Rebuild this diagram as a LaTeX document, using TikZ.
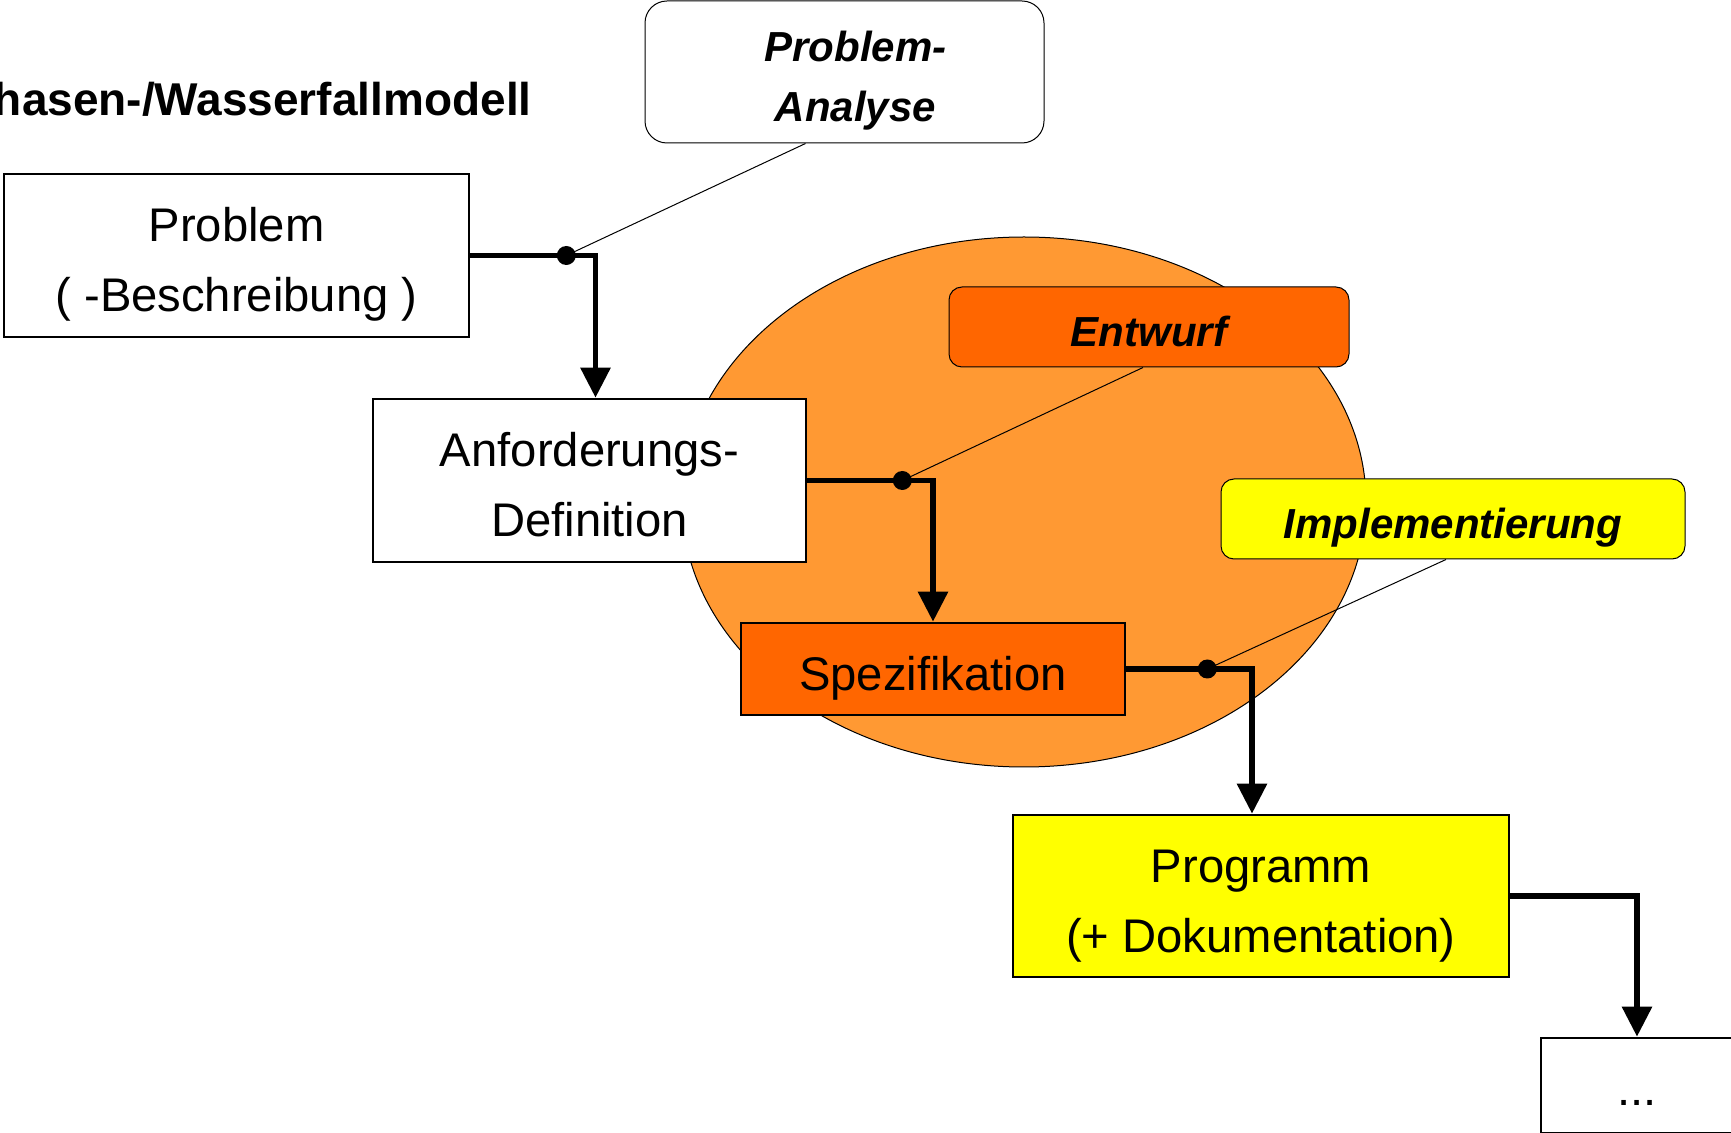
\documentclass[tikz,border=0pt]{standalone}
\usepackage{fontspec}
\setmainfont{Liberation Sans}
\usetikzlibrary{positioning,shapes,arrows.meta,backgrounds}

\definecolor{DARK_ORANGE}{HTML}{FF6600}
\definecolor{LIGHT_ORANGE}{HTML}{FF9933}
\definecolor{PHASE_YELLOW}{HTML}{FFFF00}

\tikzstyle{phase} = [rectangle, draw, line width=1.3pt, inner sep=0pt, align=center, text height=21.4pt, text depth=0pt, font=\fontsize{23.6}{35}\selectfont]
\tikzstyle{two_lines} = [text height=56.4pt]
\tikzstyle{white_phase} = [phase, fill=white]
\tikzstyle{orange_phase} = [phase, fill=DARK_ORANGE]
\tikzstyle{yellow_phase} = [phase, fill=PHASE_YELLOW]
\tikzstyle{activity} = [rectangle, draw, line width=0.5pt, rounded corners=6.5pt, inner sep=0pt, align=center, text height=19.5pt, text depth=0pt, font=\fontsize{21}{30}\selectfont\bfseries\itshape]
\tikzstyle{flow} = [-{Triangle[width=14.5pt,length=15pt]}, line width=2.9pt]
\tikzstyle{pointer} = [line width=0.5pt]
\tikzstyle{joint} = [circle, fill=black, inner sep=0pt, minimum size=9.5pt]

\begin{document}
\begin{tikzpicture}[x=0.5pt, y=-0.5pt]
      \useasboundingbox (0,0) rectangle (1731,1133);
      \clip (0,0) rectangle (1731,1133);

      %%%%%%%%%%%%%%%%%%%%%%%%%%%%%%%%%%%%%%%%%%
      % TITLE + BACKGROUND
      %%%%%%%%%%%%%%%%%%%%%%%%%%%%%%%%%%%%%%%%%%
      \node[anchor=base east, inner sep=0pt, font=\fontsize{23}{28}\selectfont\bfseries] (title) at (532,116) {Phasen-/Wasserfallmodell};
      \node[ellipse, draw, line width=0.5pt, fill=LIGHT_ORANGE, minimum width=342pt, minimum height=265pt] (cloud) at (1024,502) {};

      %%%%%%%%%%%%%%%%%%%%%%%%%%%%%%%%%%%%%%%%%%
      % PHASES
      %%%%%%%%%%%%%%%%%%%%%%%%%%%%%%%%%%%%%%%%%%
      \node[white_phase, two_lines, minimum width=232.5pt, minimum height=81.5pt] (prob) at (236.5,255.5) {Problem\\( -Beschreibung )};
      \node[white_phase, two_lines, minimum width=216.5pt, minimum height=81.5pt] (anf) at (589.5,480.5) {Anforderungs-\\Definition};
      \node[orange_phase, minimum width=192pt, minimum height=46pt] (spez) at (933,669) {Spezifikation};
      \node[yellow_phase, two_lines, minimum width=248pt, minimum height=81pt] (prog) at (1261,896) {Programm\\(+ Dokumentation)};
      \node[white_phase, minimum width=96pt, minimum height=47.5pt, text height=20pt] (rest) at (1637,1085.5) {...};

      \draw[flow] (prob.east) -| ([xshift=3pt]anf.north);
      \draw[flow] (anf.east) -| (spez.north);
      \draw[flow] (spez.east) -| ([xshift=-4.5pt]prog.north);
      \draw[flow] (prog.east) -| (rest.north);

      %%%%%%%%%%%%%%%%%%%%%%%%%%%%%%%%%%%%%%%%%%
      % ACTIVITIES
      %%%%%%%%%%%%%%%%%%%%%%%%%%%%%%%%%%%%%%%%%%
      \node[activity, fill=white, rounded corners=11pt, text height=49.5pt, minimum width=199.5pt, minimum height=71pt] (ana) at (844.5,72) {\hspace*{11pt}Problem-\\\hspace*{11pt}Analyse};
      \node[activity, fill=DARK_ORANGE, minimum width=200pt, minimum height=40pt] (entw) at (1149,327) {Entwurf};
      \node[activity, fill=PHASE_YELLOW, minimum width=232pt, minimum height=40pt] (impl) at (1453,519) {Implementierung};

      \node[joint, right=48pt of prob.east, anchor=center] (j1) {};
      \node[joint, right=47.5pt of anf.east, anchor=center] (j2) {};
      \node[joint, right=40.5pt of spez.east, anchor=center] (j3) {};

      \draw[pointer] (j1.center) -- ([xshift=-19.5pt]ana.south);
      \draw[pointer] (j2.center) -- ([xshift=-3pt]entw.south);
      \draw[pointer] (j3.center) -- ([xshift=-3.5pt]impl.south);

\end{tikzpicture}
\end{document}
